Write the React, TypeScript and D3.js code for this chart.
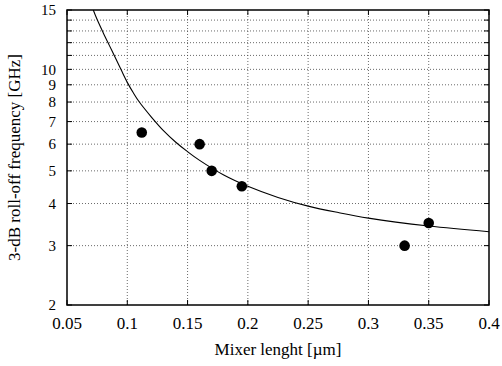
import { useEffect, useRef } from 'react'
import * as d3 from 'd3'

// measured points: mixer length (µm) vs 3-dB roll-off (GHz)
const lengths = [0.112, 0.16, 0.17, 0.195, 0.33, 0.35]
const rolloff = [6.5, 6.0, 5.0, 4.5, 3.0, 3.5]

// fitted curve
const fitX = [0.0718, 0.075, 0.08, 0.085, 0.09, 0.095, 0.1, 0.105, 0.11, 0.12, 0.13, 0.14, 0.15, 0.16, 0.18, 0.2, 0.225, 0.25, 0.275, 0.3, 0.35, 0.4]
const fitY = [15, 14.05, 12.85, 11.8, 10.85, 9.95, 9.15, 8.52, 8.0, 7.22, 6.58, 6.09, 5.7, 5.37, 4.86, 4.5, 4.17, 3.93, 3.76, 3.62, 3.43, 3.3]

const xTicks = [0.05, 0.1, 0.15, 0.2, 0.25, 0.3, 0.35, 0.4]
const yGrid = [2, 3, 4, 5, 6, 7, 8, 9, 10, 11, 12, 13, 14, 15]
const yLabels = [2, 3, 4, 5, 6, 7, 8, 9, 10, 15]

export default function App() {
  const svgRef = useRef<SVGSVGElement>(null)

  useEffect(() => {
    const W = 502, H = 366
    const m = { l: 67, r: 13, t: 10, b: 61 }
    const font = "'Liberation Serif', 'Times New Roman', Times, 'DejaVu Serif', serif"
    const fs = 17

    const svg = d3.select(svgRef.current)
    svg.selectAll('*').remove()
    svg.attr('width', W).attr('height', H).style('background', '#fff')

    const x = d3.scaleLinear().domain([0.05, 0.4]).range([m.l, W - m.r])
    const y = d3.scaleLog().domain([2, 15]).range([H - m.b, m.t])
    const x0 = m.l, x1 = W - m.r, y0 = H - m.b, y1 = m.t

    svg.append('clipPath').attr('id', 'plot').append('rect')
      .attr('x', x0).attr('y', y1).attr('width', x1 - x0).attr('height', y0 - y1)

    // grid
    const grid = svg.append('g').attr('stroke', '#444').attr('stroke-width', 0.8).attr('stroke-dasharray', '1,2')
    xTicks.slice(1, -1).forEach(v => {
      grid.append('line').attr('x1', x(v)).attr('x2', x(v)).attr('y1', y0).attr('y2', y1)
    })
    yGrid.slice(1, -1).forEach(v => {
      grid.append('line').attr('x1', x0).attr('x2', x1).attr('y1', y(v)).attr('y2', y(v))
    })

    // mirrored inward ticks
    const ticks = svg.append('g').attr('stroke', '#000').attr('stroke-width', 1)
    xTicks.forEach(v => {
      ticks.append('line').attr('x1', x(v)).attr('x2', x(v)).attr('y1', y0).attr('y2', y0 - 5)
      ticks.append('line').attr('x1', x(v)).attr('x2', x(v)).attr('y1', y1).attr('y2', y1 + 5)
    })
    yGrid.forEach(v => {
      ticks.append('line').attr('x1', x0).attr('x2', x0 + 5).attr('y1', y(v)).attr('y2', y(v))
      ticks.append('line').attr('x1', x1).attr('x2', x1 - 5).attr('y1', y(v)).attr('y2', y(v))
    })

    // fitted curve
    const pts = fitX.map((v, i) => [v, fitY[i]] as [number, number])
    const line = d3.line<[number, number]>().x(d => x(d[0])).y(d => y(d[1])).curve(d3.curveCatmullRom)
    svg.append('path').datum(pts).attr('clip-path', 'url(#plot)')
      .attr('fill', 'none').attr('stroke', '#000').attr('stroke-width', 1.1).attr('d', line)

    // points
    lengths.forEach((v, i) => {
      svg.append('circle').attr('cx', x(v)).attr('cy', y(rolloff[i])).attr('r', 5.3).attr('fill', '#000')
    })

    // frame
    svg.append('rect').attr('x', x0).attr('y', y1).attr('width', x1 - x0).attr('height', y0 - y1)
      .attr('fill', 'none').attr('stroke', '#000').attr('stroke-width', 1.5)

    // tick labels
    xTicks.forEach(v => {
      svg.append('text').attr('x', x(v)).attr('y', y0 + 24).attr('text-anchor', 'middle')
        .style('font-family', font).style('font-size', `${fs}px`).attr('fill', '#000').text(String(v))
    })
    yLabels.forEach(v => {
      svg.append('text').attr('x', x0 - 11).attr('y', y(v)).attr('dy', '0.35em').attr('text-anchor', 'end')
        .style('font-family', font).style('font-size', '15px').attr('fill', '#000').text(String(v))
    })

    // axis titles
    svg.append('text').attr('x', (x0 + x1) / 2).attr('y', 355).attr('text-anchor', 'middle')
      .style('font-family', font).style('font-size', `${fs}px`).attr('fill', '#000').text('Mixer lenght [µm]')
    svg.append('text').attr('transform', `translate(20, ${(y0 + y1) / 2}) rotate(-90)`).attr('text-anchor', 'middle')
      .style('font-family', font).style('font-size', `${fs}px`).attr('fill', '#000').text('3-dB roll-off frequency [GHz]')
  }, [])

  return <svg ref={svgRef} style={{ position: 'absolute', left: 0, top: 0 }} />
}
